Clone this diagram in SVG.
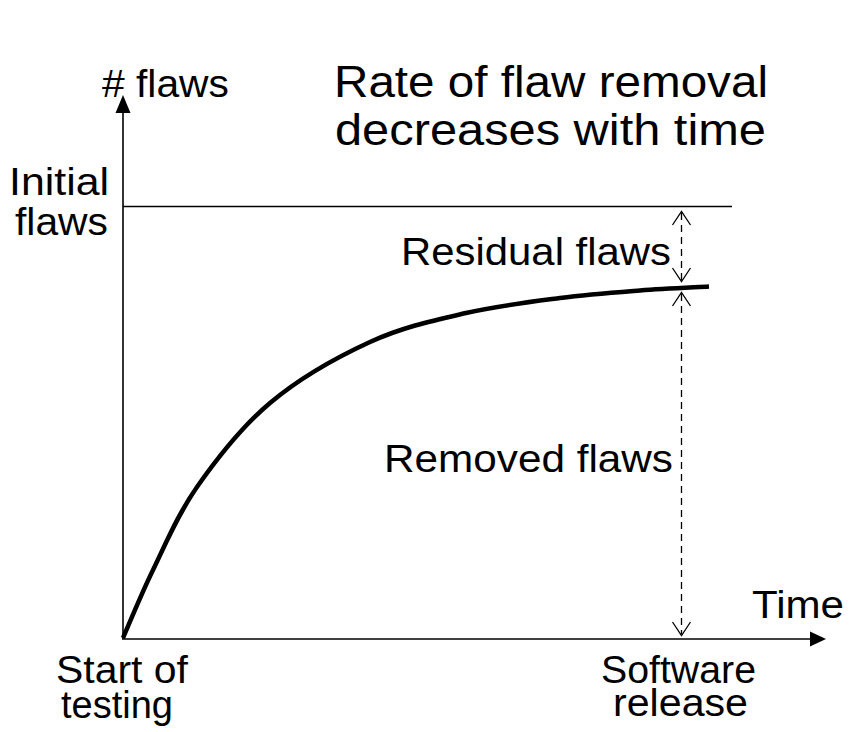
<svg xmlns="http://www.w3.org/2000/svg" width="851" height="732" viewBox="0 0 851 732">
  <style>
    text { font-family: "Liberation Sans", Arial, sans-serif; fill: #000; }
    .title { font-size: 44px; }
    .lbl { font-size: 38px; }
    .axis { stroke: #000; stroke-width: 1.6; fill: none; }
    .dash { stroke: #000; stroke-width: 1.3; stroke-dasharray: 7 5; fill: none; }
    .tick { stroke: #000; stroke-width: 1.3; fill: none; }
  </style>

  <rect width="851" height="732" fill="#fff"/>

  <!-- axes -->
  <g id="axes">
    <line class="axis" x1="123" y1="639" x2="123" y2="110"/>
    <polygon points="123,95 115.5,113 130.5,113" fill="#000"/>
    <line class="axis" x1="122" y1="639" x2="812" y2="639"/>
    <polygon points="826,639 810,631.5 810,646.5" fill="#000"/>
  </g>

  <!-- initial flaw level -->
  <g id="initial-level">
    <line class="axis" x1="123" y1="206.5" x2="732" y2="206.5"/>
  </g>

  <!-- flaws removed over time (smooth spline) -->
  <g id="curve">
    <path d="M123,638 C128,626.7 140.7,595.2 153,570 C165.3,544.8 177.5,514.8 197,487 C216.5,459.2 241.2,427.2 270,403 C298.8,378.8 337.3,357 370,342 C402.7,327 434.3,320.3 466,313 C497.7,305.7 531,301.75 560,298 C589,294.25 615.2,292.4 640,290.5 C664.8,288.6 697.5,287.2 709,286.5"
          fill="none" stroke="#000" stroke-width="4.5" stroke-linecap="butt"/>
  </g>

  <!-- dimension connectors at release -->
  <g id="connectors">
    <line class="dash" x1="681.5" y1="213" x2="681.5" y2="280"/>
    <polyline class="tick" points="672.5,225 681.5,211.5 690.5,225"/>
    <polyline class="tick" points="672.5,268 681.5,281.5 690.5,268"/>
    <line class="dash" x1="681.5" y1="294" x2="681.5" y2="634"/>
    <polyline class="tick" points="672.5,306 681.5,292.5 690.5,306"/>
    <polyline class="tick" points="672.5,622 681.5,635.5 690.5,622"/>
  </g>

  <!-- labels -->
  <g id="title">
    <text class="title" x="334" y="97" textLength="434" lengthAdjust="spacingAndGlyphs">Rate of flaw removal</text>
    <text class="title" x="335" y="145" textLength="431" lengthAdjust="spacingAndGlyphs">decreases with time</text>
  </g>
  <g id="y-label"><text class="lbl" x="102" y="97" textLength="127" lengthAdjust="spacingAndGlyphs"># flaws</text></g>
  <g id="initial-label">
    <text class="lbl" x="9" y="195" textLength="100" lengthAdjust="spacingAndGlyphs">Initial</text>
    <text class="lbl" x="15" y="235" textLength="93" lengthAdjust="spacingAndGlyphs">flaws</text>
  </g>
  <g id="residual-label"><text class="lbl" x="401" y="265" textLength="270" lengthAdjust="spacingAndGlyphs">Residual flaws</text></g>
  <g id="removed-label"><text class="lbl" x="384" y="472" textLength="289" lengthAdjust="spacingAndGlyphs">Removed flaws</text></g>
  <g id="x-label"><text class="lbl" x="752" y="618" textLength="92" lengthAdjust="spacingAndGlyphs">Time</text></g>
  <g id="start-label">
    <text class="lbl" x="56" y="683" textLength="132" lengthAdjust="spacingAndGlyphs">Start of</text>
    <text class="lbl" x="61" y="718" textLength="112" lengthAdjust="spacingAndGlyphs">testing</text>
  </g>
  <g id="release-label">
    <text class="lbl" x="601" y="683" textLength="155" lengthAdjust="spacingAndGlyphs">Software</text>
    <text class="lbl" x="613" y="716" textLength="135" lengthAdjust="spacingAndGlyphs">release</text>
  </g>
</svg>
